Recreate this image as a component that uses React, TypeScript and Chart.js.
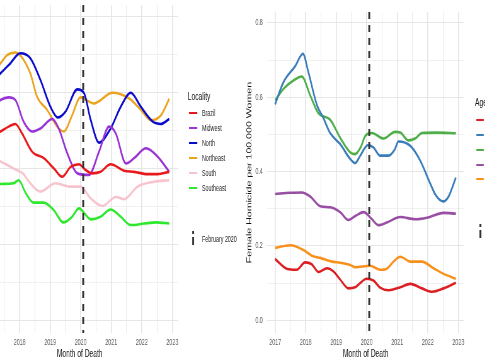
import React, { useEffect, useRef } from "react";
import { Chart, registerables } from "chart.js";
Chart.register(...registerables);

// ---------- data ----------
const FEB_2020 = 2020.083;
const X_MIN = 2016.738;
const X_MAX = 2023.197;
const Y_MIN = -0.034;
const Y_MAX = 0.829;
const xTickValues = [2017, 2017.5, 2018, 2018.5, 2019, 2019.5, 2020, 2020.5, 2021, 2021.5, 2022, 2022.5, 2023];
const yTickValues = [0, 0.1, 0.2, 0.3, 0.4, 0.5, 0.6, 0.7, 0.8];

const localities = ["Brazil", "Midwest", "North", "Northeast", "South", "Southeast"];
const localityColors = ["#e8191c", "#9a33d6", "#0b0bcc", "#eba41e", "#f7c4cd", "#2ee82e"];

const brazil = [[2017.0,0.48],[2017.37,0.496],[2017.64,0.509],[2017.86,0.516],[2018.08,0.491],[2018.41,0.443],[2018.79,0.426],[2019.12,0.399],[2019.39,0.377],[2019.67,0.403],[2019.94,0.41],[2020.16,0.395],[2020.38,0.386],[2020.65,0.39],[2020.98,0.41],[2021.42,0.393],[2021.75,0.39],[2022.19,0.384],[2022.52,0.384],[2022.9,0.39]];
const midwest = [[2017.0,0.55],[2017.37,0.579],[2017.64,0.586],[2017.86,0.579],[2018.13,0.522],[2018.41,0.496],[2018.68,0.504],[2019.07,0.529],[2019.28,0.504],[2019.56,0.439],[2019.89,0.386],[2020.27,0.382],[2020.6,0.443],[2020.93,0.509],[2021.15,0.491],[2021.48,0.412],[2021.75,0.426],[2022.14,0.452],[2022.52,0.43],[2022.9,0.39]];
const north = [[2017.0,0.62],[2017.37,0.649],[2017.69,0.675],[2018.02,0.702],[2018.35,0.689],[2018.68,0.632],[2019.01,0.561],[2019.25,0.533],[2019.5,0.548],[2019.89,0.607],[2020.11,0.597],[2020.33,0.526],[2020.6,0.467],[2020.98,0.504],[2021.31,0.561],[2021.64,0.598],[2021.97,0.561],[2022.36,0.522],[2022.63,0.516],[2022.9,0.529]];
const northeast = [[2017.0,0.64],[2017.37,0.675],[2017.59,0.697],[2017.86,0.704],[2018.02,0.697],[2018.35,0.649],[2018.57,0.588],[2018.9,0.553],[2019.28,0.504],[2019.45,0.496],[2019.72,0.539],[2019.99,0.586],[2020.43,0.57],[2021.04,0.598],[2021.59,0.583],[2021.97,0.553],[2022.3,0.526],[2022.63,0.539],[2022.9,0.582]];
const south = [[2017.0,0.43],[2017.37,0.417],[2017.8,0.399],[2018.13,0.384],[2018.25,0.37],[2018.68,0.338],[2019.17,0.36],[2019.67,0.351],[2020.0,0.351],[2020.33,0.32],[2020.71,0.3],[2021.15,0.324],[2021.42,0.318],[2021.86,0.351],[2022.41,0.364],[2022.9,0.368]];
const southeast = [[2017.0,0.355],[2017.37,0.358],[2017.8,0.36],[2017.97,0.368],[2018.2,0.334],[2018.46,0.309],[2018.79,0.309],[2019.12,0.289],[2019.43,0.257],[2019.72,0.272],[2019.94,0.294],[2020.33,0.265],[2020.65,0.272],[2020.98,0.291],[2021.31,0.272],[2021.64,0.25],[2022.08,0.254],[2022.46,0.257],[2022.9,0.254]];
const localitySeries = [brazil, midwest, north, northeast, south, southeast];

const ageGroups = ["Group 1", "Group 2", "Group 3", "Group 4", "Group 5"];
const ageColors = ["#dc1f22", "#3a7dba", "#4dae4a", "#984ea3", "#f8911c"];
const age1 = [[2017.0,0.165],[2017.38,0.139],[2017.71,0.136],[2017.98,0.156],[2018.2,0.151],[2018.42,0.13],[2018.7,0.14],[2018.91,0.132],[2019.13,0.11],[2019.4,0.086],[2019.62,0.089],[2020.0,0.112],[2020.22,0.107],[2020.44,0.088],[2020.72,0.081],[2021.1,0.089],[2021.43,0.098],[2021.81,0.086],[2022.14,0.077],[2022.52,0.086],[2022.92,0.101]];
const age2 = [[2017.0,0.581],[2017.27,0.64],[2017.66,0.684],[2017.91,0.717],[2018.09,0.667],[2018.37,0.579],[2018.58,0.544],[2018.8,0.504],[2019.13,0.474],[2019.46,0.434],[2019.62,0.423],[2019.79,0.443],[2020.03,0.471],[2020.22,0.465],[2020.44,0.443],[2020.72,0.443],[2020.92,0.46],[2021.04,0.481],[2021.43,0.469],[2021.75,0.43],[2022.08,0.368],[2022.25,0.338],[2022.5,0.32],[2022.68,0.333],[2022.92,0.384]];
const age3 = [[2017.0,0.592],[2017.3,0.625],[2017.6,0.645],[2017.87,0.656],[2018.15,0.605],[2018.42,0.557],[2018.8,0.54],[2019.13,0.491],[2019.46,0.452],[2019.62,0.447],[2019.8,0.465],[2019.95,0.496],[2020.17,0.504],[2020.55,0.489],[2020.93,0.507],[2021.1,0.505],[2021.37,0.484],[2021.6,0.49],[2021.81,0.504],[2022.3,0.505],[2022.92,0.503]];
const age4 = [[2017.0,0.34],[2017.5,0.343],[2017.87,0.344],[2018.15,0.333],[2018.48,0.307],[2018.8,0.304],[2019.13,0.291],[2019.4,0.27],[2019.65,0.282],[2019.9,0.291],[2020.17,0.272],[2020.39,0.256],[2020.66,0.263],[2021.1,0.278],[2021.59,0.272],[2021.97,0.276],[2022.52,0.289],[2022.92,0.287]];
const age5 = [[2017.0,0.195],[2017.5,0.202],[2017.93,0.189],[2018.2,0.174],[2018.48,0.168],[2018.86,0.158],[2019.13,0.155],[2019.46,0.149],[2019.62,0.143],[2020.11,0.147],[2020.44,0.136],[2020.66,0.139],[2020.9,0.16],[2021.1,0.171],[2021.43,0.158],[2021.81,0.158],[2022.19,0.14],[2022.52,0.125],[2022.92,0.112]];
const ageSeries = [age1, age2, age3, age4, age5];

// ---------- layout ----------
const SX = 0.63; // horizontal squeeze of the whole figure
const FONT = "'Liberation Sans', Arial, sans-serif";
const CW = 360;
const CH = 360;

function buildDatasets(series: number[][][], colors: string[], names: string[]) {
  const ds: any[] = [
    {
      label: "February 2020",
      data: [{ x: FEB_2020, y: Y_MAX }, { x: FEB_2020, y: Y_MIN }],
      borderColor: "#333333",
      borderWidth: 3,
      borderDash: [7, 6],
      pointRadius: 0,
      order: 0,
      tension: 0,
    },
  ];
  series.forEach((s, i) => {
    ds.push({
      label: names[i],
      data: s.map(([x, y]) => ({ x, y })),
      borderColor: colors[i],
      borderWidth: 2.6,
      pointRadius: 0,
      cubicInterpolationMode: "monotone",
      order: 1,
    });
  });
  return ds;
}

function buildConfig(datasets: any[], showY: boolean): any {
  return {
    type: "line",
    data: { datasets },
    options: {
      animation: false,
      responsive: false,
      events: [],
      layout: { padding: { left: 0, right: 8, top: 5, bottom: 0 } },
      plugins: { legend: { display: false }, tooltip: { enabled: false } },
      scales: {
        x: {
          type: "linear",
          min: X_MIN,
          max: X_MAX,
          afterBuildTicks: (s: any) => {
            s.ticks = xTickValues.map((v) => ({ value: v }));
          },
          afterFit: (s: any) => {
            s.height = 27;
          },
          border: { display: false },
          grid: {
            color: "#e6e6e6",
            drawTicks: false,
            lineWidth: (c: any) => (c.tick && Number.isInteger(c.tick.value) ? 1.7 : 0.9),
          },
          ticks: {
            autoSkip: false,
            maxRotation: 0,
            minRotation: 0,
            padding: 5,
            color: "#5a5a5a",
            font: { family: FONT, size: 8.5 },
            callback: (v: number) => (Number.isInteger(v) ? String(v) : ""),
          },
          title: {
            display: true,
            text: "Month of Death",
            color: "#111111",
            font: { family: FONT, size: 10.6 },
            padding: { top: 0, bottom: 0 },
          },
        },
        y: {
          type: "linear",
          min: Y_MIN,
          max: Y_MAX,
          afterBuildTicks: (s: any) => {
            s.ticks = yTickValues.map((v) => ({ value: v }));
          },
          afterFit: (s: any) => {
            s.width = 39;
          },
          border: { display: false },
          grid: {
            color: "#e6e6e6",
            drawTicks: false,
            lineWidth: (c: any) => (c.tick && Math.round(c.tick.value * 10) % 2 === 0 ? 1 : 0.55),
          },
          ticks: {
            display: showY,
            padding: 7,
            color: "#5a5a5a",
            font: { family: FONT, size: 8.5 },
            callback: (v: number) => (Math.round(v * 10) % 2 === 0 ? v.toFixed(1) : ""),
          },
          title: {
            display: showY,
            text: "Female Homicide per 100.000 Women",
            color: "#111111",
            font: { family: FONT, size: 10.6 },
            padding: { top: 5, bottom: 0 },
          },
        },
      },
    },
  };
}

function Panel({ datasets, left, showY }: { datasets: any[]; left: number; showY: boolean }) {
  const ref = useRef<HTMLCanvasElement | null>(null);
  useEffect(() => {
    if (!ref.current) return;
    const chart = new Chart(ref.current, buildConfig(datasets, showY));
    return () => chart.destroy();
  }, []);
  return (
    <canvas
      ref={ref}
      width={CW}
      height={CH}
      style={{ position: "absolute", left, top: 0, width: CW, height: CH }}
    />
  );
}

function KeyLine({ x, y, color }: { x: number; y: number; color: string }) {
  return (
    <div
      style={{ position: "absolute", left: x, top: y - 1.2, width: 12.7, height: 2.4, background: color }}
    />
  );
}

function Label({ x, y, text, size, color }: { x: number; y: number; text: string; size: number; color: string }) {
  return (
    <div
      style={{
        position: "absolute",
        left: x,
        top: y - size * 0.62,
        fontFamily: FONT,
        fontSize: size,
        lineHeight: `${size * 1.2}px`,
        color,
        whiteSpace: "nowrap",
      }}
    >
      {text}
    </div>
  );
}

function DashKey({ x, y }: { x: number; y: number }) {
  return (
    <>
      <div style={{ position: "absolute", left: x, top: y - 8, width: 3, height: 2.5, background: "#333" }} />
      <div style={{ position: "absolute", left: x, top: y - 2, width: 3, height: 7.5, background: "#333" }} />
    </>
  );
}

export default function App() {
  const leftDatasets = buildDatasets(localitySeries, localityColors, localities);
  const rightDatasets = buildDatasets(ageSeries, ageColors, ageGroups);
  const leftItemsY = [113, 128, 143, 158, 173, 188];
  const rightItemsY = [120, 135, 150, 165, 179];
  return (
    <div style={{ position: "fixed", left: 0, top: 0, width: 485, height: 360, overflow: "hidden", background: "#fff" }}>
      <div
        style={{
          position: "absolute",
          left: 0,
          top: 0,
          width: 485 / SX,
          height: 360,
          transform: `scaleX(${SX})`,
          transformOrigin: "0 0",
          overflow: "hidden",
        }}
      >
        <Panel datasets={leftDatasets} left={-69} showY={false} />
        <Panel datasets={rightDatasets} left={385} showY={true} />

        {/* Locality legend */}
        <Label x={298} y={97} text="Locality" size={10.6} color="#111" />
        {localities.map((name, i) => (
          <React.Fragment key={name}>
            <KeyLine x={300} y={leftItemsY[i]} color={localityColors[i]} />
            <Label x={320.6} y={leftItemsY[i]} text={name} size={8.5} color="#222" />
          </React.Fragment>
        ))}
        <DashKey x={305} y={239} />
        <Label x={320.6} y={239} text="February 2020" size={8.5} color="#222" />

        {/* Age legend (cut at the right edge) */}
        <Label x={754} y={103} text="Age" size={10.6} color="#111" />
        {ageGroups.map((g, i) => (
          <KeyLine key={g} x={755.5} y={rightItemsY[i]} color={ageColors[i]} />
        ))}
        <DashKey x={761} y={232} />
      </div>
    </div>
  );
}
